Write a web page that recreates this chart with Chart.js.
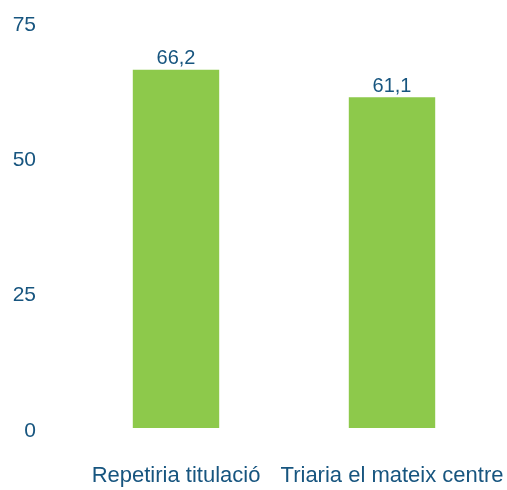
<!DOCTYPE html>
<html>
<head>
<meta charset="utf-8">
<script src="https://cdn.jsdelivr.net/npm/chart.js@4.4.0/dist/chart.umd.min.js"></script>
<style>
  html, body { margin: 0; padding: 0; background: #fff; }
  #wrap { width: 507px; height: 490px; }
</style>
</head>
<body>
<div id="wrap"><canvas id="chart"></canvas></div>
<script>
// data
const categories = ['Repetiria titulació', 'Triaria el mateix centre'];
const values = [66.2, 61.1];
const yTicks = [0, 25, 50, 75];

const textColor = '#17557f';
const barColor = '#8dc94b';

// value labels above the bars, with decimal comma
const valueLabels = {
  id: 'valueLabels',
  afterDatasetsDraw(chart) {
    const ctx = chart.ctx;
    const meta = chart.getDatasetMeta(0);
    ctx.save();
    ctx.font = '20px "Liberation Sans", Arial, sans-serif';
    ctx.fillStyle = textColor;
    ctx.textAlign = 'center';
    ctx.textBaseline = 'bottom';
    meta.data.forEach((bar, i) => {
      ctx.fillText(values[i].toFixed(1).replace('.', ','), bar.x, bar.y - 1);
    });
    ctx.restore();
  }
};

new Chart(document.getElementById('chart'), {
  type: 'bar',
  data: {
    labels: categories,
    datasets: [{
      data: values,
      backgroundColor: barColor,
      borderWidth: 0,
      barPercentage: 0.4,
      categoryPercentage: 1.0
    }]
  },
  options: {
    responsive: true,
    maintainAspectRatio: false,
    animation: false,
    layout: { padding: { top: 22, right: 7, left: 0, bottom: 0 } },
    plugins: {
      legend: { display: false },
      tooltip: { enabled: false }
    },
    scales: {
      x: {
        grid: { display: false, drawTicks: false },
        border: { display: false },
        ticks: {
          color: textColor,
          font: { family: '"Liberation Sans", Arial, sans-serif', size: 22 },
          padding: 35,
          maxRotation: 0,
          autoSkip: false
        },
        afterFit(scale) {
          scale.height = 62;
          scale.paddingLeft = 0;
          scale.paddingRight = 0;
        }
      },
      y: {
        min: 0,
        max: 75,
        grid: { display: false, drawTicks: false },
        border: { display: false },
        afterBuildTicks(scale) { scale.ticks = yTicks.map(v => ({ value: v })); },
        ticks: {
          color: textColor,
          font: { family: '"Liberation Sans", Arial, sans-serif', size: 21 },
          padding: 32,
          labelOffset: 3
        },
        afterFit(scale) {
          scale.width = 68;
          scale.paddingTop = 0;
          scale.paddingBottom = 0;
        }
      }
    }
  },
  plugins: [valueLabels]
});
</script>
</body>
</html>
